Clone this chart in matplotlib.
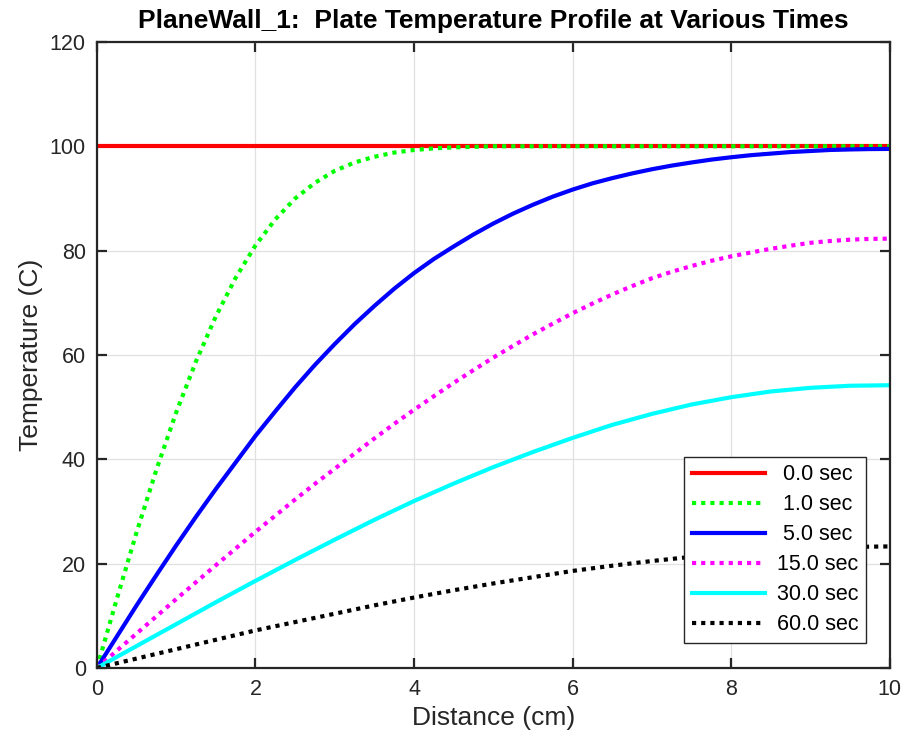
import numpy as np
import matplotlib
matplotlib.use("Agg")
import matplotlib.pyplot as plt

plt.rcParams['font.family'] = ['Liberation Sans', 'DejaVu Sans']

# Temperature profiles (C vs cm)

x_red = [0.0, 10.0]
T_0s = [100.0, 100.0]

x_green = [0.0, 0.25, 0.5, 0.75, 1.0, 1.25, 1.5, 1.75, 2.0, 2.25, 2.5, 2.75,
           3.0, 3.25, 3.5, 3.75, 4.0, 4.25, 4.5, 4.75, 5.0, 6.0, 7.0, 8.0,
           9.0, 10.0]
T_1s = [0.0, 13.2, 26.0, 38.0, 49.0, 58.8, 67.4, 74.8, 81.0, 86.0, 90.0, 93.0,
        95.3, 96.9, 98.0, 98.8, 99.3, 99.6, 99.8, 99.9, 100.0, 100.0, 100.0,
        100.0, 100.0, 100.0]

x_fine = [0.0, 0.25, 0.5, 0.75, 1.0, 1.25, 1.5, 1.75, 2.0, 2.25, 2.5, 2.75,
          3.0, 3.25, 3.5, 3.75, 4.0, 4.25, 4.5, 4.75, 5.0, 5.25, 5.5, 5.75,
          6.0, 6.25, 6.5, 6.75, 7.0, 7.25, 7.5, 7.75, 8.0, 8.25, 8.5, 8.75,
          9.0, 9.25, 9.5, 9.75, 10.0]
T_5s = [0.0, 6.0, 12.0, 17.8, 23.5, 29.0, 34.3, 39.4, 44.5, 49.2, 53.8, 58.1,
        62.1, 65.9, 69.4, 72.7, 75.7, 78.4, 80.8, 83.1, 85.2, 87.1, 88.8, 90.35,
        91.7, 92.9, 93.9, 94.8, 95.6, 96.3, 96.9, 97.45, 97.9, 98.3, 98.6, 98.9,
        99.1, 99.3, 99.4, 99.47, 99.5]
T_15s = [0.0, 3.3, 6.6, 9.9, 13.2, 16.45, 19.7, 22.9, 26.1, 29.2, 32.3, 35.3,
         38.2, 41.1, 44.0, 46.8, 49.5, 52.1, 54.65, 57.1, 59.5, 61.75, 63.95, 66.0,
         68.0, 69.85, 71.6, 73.2, 74.7, 75.95, 77.05, 78.05, 78.9, 79.65, 80.35,
         80.95, 81.5, 81.85, 82.1, 82.25, 82.3]

x_half = [0.0, 0.5, 1.0, 1.5, 2.0, 2.5, 3.0, 3.5, 4.0, 4.5, 5.0,
          5.5, 6.0, 6.5, 7.0, 7.5, 8.0, 8.5, 9.0, 9.5, 10.0]
T_30s = [0.0, 4.2, 8.4, 12.6, 16.7, 20.7, 24.6, 28.4, 32.0, 35.35, 38.5,
         41.4, 44.1, 46.6, 48.7, 50.5, 51.9, 53.0, 53.7, 54.1, 54.2]
T_60s = [0.0, 1.8, 3.6, 5.4, 7.2, 8.8, 10.4, 12.0, 13.5, 14.9, 16.2,
         17.4, 18.6, 19.6, 20.5, 21.3, 22.0, 22.5, 22.9, 23.2, 23.3]

labels = [' 0.0 sec', ' 1.0 sec', ' 5.0 sec', '15.0 sec', '30.0 sec', '60.0 sec']

fig = plt.figure(figsize=(9.06, 7.43), dpi=100)
ax = fig.add_axes([0.107, 0.101, 0.875, 0.8425])

dot = (0, (1, 1.2))
lw = 3
ax.plot(x_red, T_0s, color='#ff0000', lw=lw, label=labels[0])
ax.plot(x_green, T_1s, color='#00ff00', lw=lw, ls=dot, label=labels[1])
ax.plot(x_fine, T_5s, color='#0000ff', lw=lw, label=labels[2])
ax.plot(x_fine, T_15s, color='#ff00ff', lw=lw, ls=dot, label=labels[3])
ax.plot(x_half, T_30s, color='#00ffff', lw=lw, label=labels[4])
ax.plot(x_half, T_60s, color='#000000', lw=lw, ls=dot, label=labels[5])

ax.set_xlim(0, 10)
ax.set_ylim(0, 120)
ax.set_xticks(np.arange(0, 11, 2))
ax.set_yticks(np.arange(0, 121, 20))
ax.grid(True, color='#e0e0e0', lw=0.9)
ax.set_axisbelow(True)

for s in ax.spines.values():
    s.set_color('#262626')
    s.set_linewidth(1.6)
ax.tick_params(direction='in', length=7, width=1.6, colors='#262626',
               labelsize=15.5, top=True, right=True, pad=8)

ax.set_xlabel('Distance (cm)', fontsize=19, color='#262626', labelpad=4)
ax.set_ylabel('Temperature (C)', fontsize=19, color='#262626', labelpad=5)
ax.set_title('PlaneWall_1:  Plate Temperature Profile at Various Times',
             fontsize=19, fontweight='bold', color='#000000', pad=10)

leg = ax.legend(loc='lower right', bbox_to_anchor=(0.970, 0.040),
                borderaxespad=0, fontsize=15.5, handlelength=3.4,
                handletextpad=0.55, labelspacing=0.42, fancybox=False,
                framealpha=1, borderpad=0.35)
leg.get_frame().set_edgecolor('#262626')
leg.get_frame().set_linewidth(1.0)

fig.savefig('out.png', dpi=100)
